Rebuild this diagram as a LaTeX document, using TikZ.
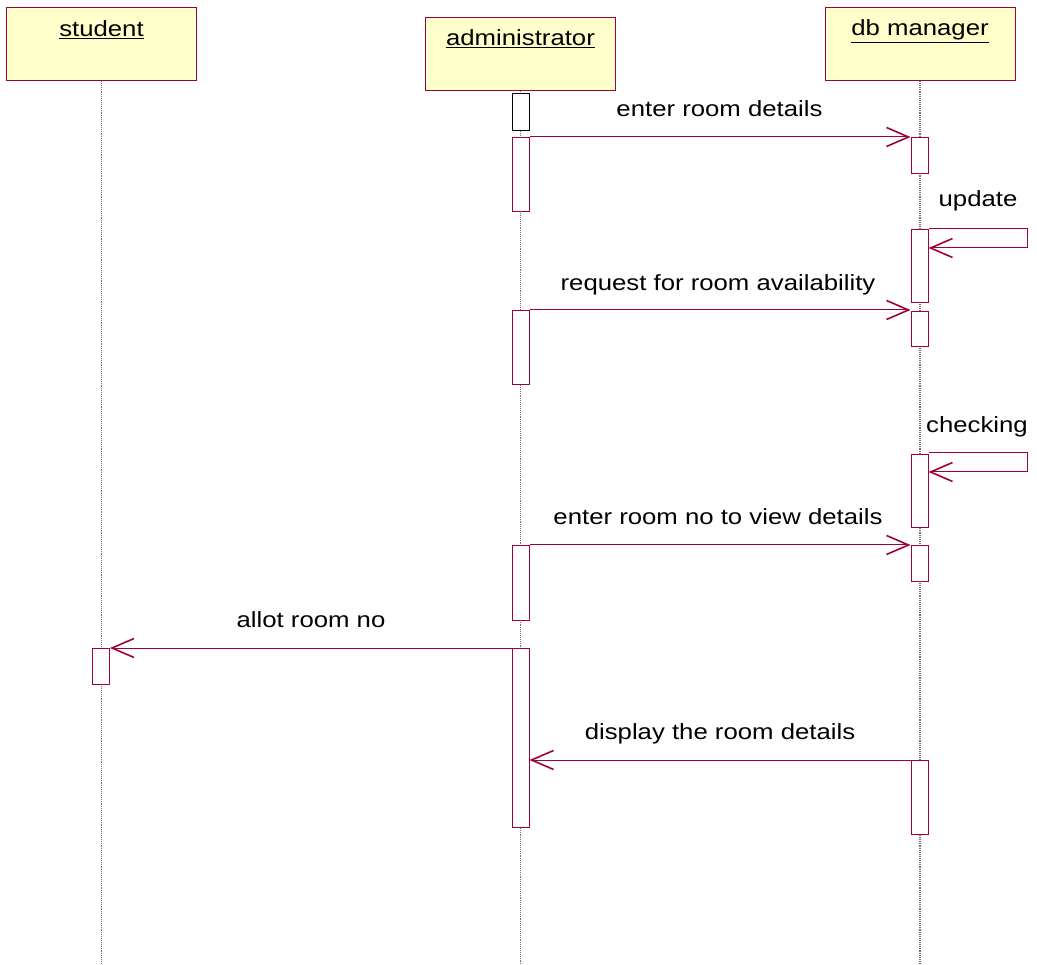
\documentclass[tikz,border=0pt]{standalone}
\usepackage{fontspec}
\setmainfont{Liberation Sans}
\usetikzlibrary{arrows.meta,calc}
\definecolor{umlred}{RGB}{160,0,60}
\definecolor{headfill}{RGB}{255,255,204}
% message and header text: Arial-like face, slightly widened
\newcommand{\msgtext}[1]{\scalebox{1.17}[1]{\fontsize{22}{26}\selectfont #1}}
\begin{document}
\begin{tikzpicture}[x=1pt,y=-1pt,
  head/.style={draw=umlred, fill=headfill, line width=1pt, minimum width=190pt,
    minimum height=73pt, anchor=north west, inner sep=0pt},
  act/.style={draw=umlred, fill=white, line width=1pt, minimum width=17pt,
    anchor=north, inner sep=0pt},
  life/.style={black!55, densely dotted, line width=1.1pt},
  msgline/.style={umlred, line width=1pt},
  msg/.style={msgline, -{Straight Barb[length=22pt,width=19pt,line width=1.6pt]}},
  lbl/.style={anchor=base, inner sep=0pt}]
\useasboundingbox (0,0) rectangle (1037,965);
\coordinate (bot) at (0,965);

% objects
\node[head] (stu) at (6,7) {};
\node[head] (adm) at (425,17) {};
\node[head] (db) at (824.5,7) {};
\node[lbl] at ($(stu.north)+(0,30)$) {\msgtext{\underline{student}}};
\node[lbl] at ($(adm.north)+(0,29)$) {\msgtext{\underline{administrator}}};
\node[lbl] at ($(db.north)+(0,29)$) {\msgtext{\underline{db manager}}};

% lifelines
\draw[life] (stu.south) -- (stu.south |- bot);
\draw[life] (adm.south) -- (adm.south |- bot);
\draw[life] (db.south) -- (db.south |- bot);

% activations: administrator
\node[act, draw=black, minimum height=37pt] (a0) at (520.5,93) {};
\node[act, minimum height=74pt] (a1) at (520.5,137) {};
\node[act, minimum height=74pt] (a2) at (520.5,310) {};
\node[act, minimum height=75pt] (a3) at (520.5,545) {};
\node[act, minimum height=179pt] (a4) at (520.5,648) {};
% activations: db manager
\node[act, minimum height=36pt] (d1) at (919.5,137) {};
\node[act, minimum height=73pt] (d2) at (919.5,229) {};
\node[act, minimum height=35pt] (d3) at (919.5,311) {};
\node[act, minimum height=73pt] (d4) at (919.5,454) {};
\node[act, minimum height=36pt] (d5) at (919.5,545) {};
\node[act, minimum height=74pt] (d6) at (919.5,760) {};
% activation: student
\node[act, minimum height=36pt] (s1) at (101,648) {};

% messages
\draw[msg] (a1.north east) -- (a1.north east -| d1.west);
\node[lbl] at (719.5,116.7) {\msgtext{enter room details}};

\draw[msgline] (d2.north east) -- ++(99,0) -- ++(0,19) coordinate (u1);
\draw[msg] (u1) -- (u1 -| d2.east);
\node[lbl] at (978,206.7) {\msgtext{update}};

\draw[msg] (a2.north east) -- (a2.north east -| d3.west);
\node[lbl] at (718,291) {\msgtext{request for room availability}};

\draw[msgline] ($(d4.north east)+(0,-1)$) -- ++(99,0) -- ++(0,19) coordinate (u2);
\draw[msg] (u2) -- (u2 -| d4.east);
\node[lbl] at (977,433) {\msgtext{checking}};

\draw[msg] (a3.north east) -- (a3.north east -| d5.west);
\node[lbl] at (718,525) {\msgtext{enter room no to view details}};

\draw[msg] (a4.north west) -- (a4.north west -| s1.east);
\node[lbl] at (311,627) {\msgtext{allot room no}};

\draw[msg] (d6.north west) -- (d6.north west -| a4.east);
\node[lbl] at (720,739) {\msgtext{display the room details}};
\end{tikzpicture}
\end{document}
